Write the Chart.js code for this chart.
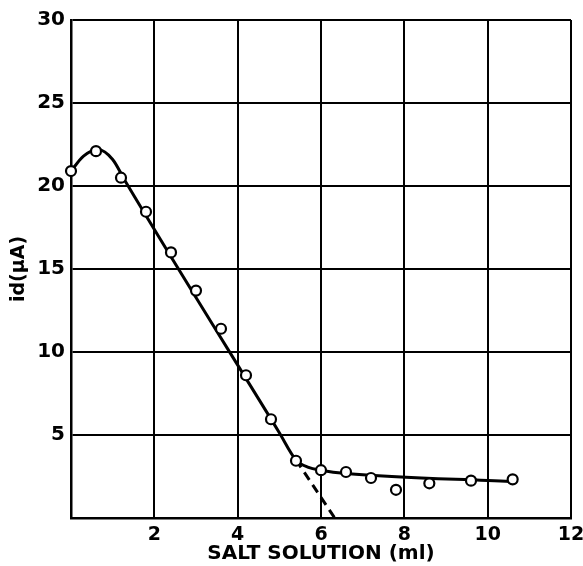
<!DOCTYPE html>
<html>
<head>
<meta charset="utf-8">
<script src="https://cdn.jsdelivr.net/npm/chart.js@4.4.1/dist/chart.umd.min.js"></script>
<style>
  html, body { margin: 0; padding: 0; background: #fff; }
</style>
</head>
<body>
<canvas id="chart" width="583" height="566"></canvas>
<script>
// measured points: ml of salt solution added vs diffusion current
const saltMl = [0, 0.6, 1.2, 1.8, 2.4, 3.0, 3.6, 4.2, 4.8, 5.4, 6.0, 6.6, 7.2, 7.8, 8.6, 9.6, 10.6];
const idMicroA = [20.9, 22.1, 20.5, 18.45, 16.0, 13.7, 11.4, 8.6, 5.95, 3.45, 2.88, 2.77, 2.41, 1.7, 2.09, 2.25, 2.33];

// hand-drawn fit curve through the points
const fitMl = [0, 0.3, 0.65, 1.0, 1.3, 5.0, 5.4, 5.7, 6.0, 6.6, 10.55];
const fitId = [20.9, 21.8, 22.2, 21.6, 20.3, 5.14, 3.5, 3.05, 2.88, 2.68, 2.2];

// dashed extrapolation of the falling branch
const extMl = [5.4, 6.33];
const extId = [3.5, 0];

const xTicks = [2, 4, 6, 8, 10, 12];
const yTicks = [5, 10, 15, 20, 25, 30];

const pairs = (xs, ys) => xs.map((x, i) => ({x: x, y: ys[i]}));
const font = 'DejaVu Sans';

let chart = new Chart(document.getElementById('chart'), {
  type: 'scatter',
  data: {
    datasets: [
      {data: pairs(saltMl, idMicroA), pointRadius: 5, pointBorderWidth: 2.2,
       pointBackgroundColor: '#fff', pointBorderColor: '#000', showLine: false, clip: false, order: 0},
      {data: pairs(fitMl, fitId), showLine: true, pointRadius: 0, borderColor: '#000',
       borderWidth: 3, cubicInterpolationMode: 'monotone', order: 1},
      {data: pairs(extMl, extId), showLine: true, pointRadius: 0, borderColor: '#000',
       borderWidth: 3, borderDash: [9, 6], order: 2}
    ]
  },
  options: {
    responsive: false,
    animation: false,
    layout: {padding: {left: 0, right: 12, top: 20, bottom: 0}},
    plugins: {legend: {display: false}, tooltip: {enabled: false}},
    scales: {
      x: {
        type: 'linear', min: 0, max: 12,
        afterFit: s => { s.height = 48; s.paddingLeft = 0; s.paddingRight = 0; },
        afterBuildTicks: s => { s.ticks = [0].concat(xTicks).map(v => ({value: v})); },
        grid: {color: '#000', lineWidth: 2, drawTicks: false},
        border: {color: '#000', width: 2.5},
        ticks: {color: '#000', padding: 6, font: {family: font, size: 19, weight: 'bold'},
                callback: v => (v === 0 ? '' : v)},
        title: {display: true, text: 'SALT SOLUTION (ml)', color: '#000',
                font: {family: font, size: 20, weight: 'bold'}, padding: {top: 0, bottom: 0}}
      },
      y: {
        type: 'linear', min: 0, max: 30,
        afterFit: s => { s.width = 71; s.paddingTop = 0; s.paddingBottom = 0; },
        afterBuildTicks: s => { s.ticks = [0].concat(yTicks).map(v => ({value: v})); },
        grid: {color: '#000', lineWidth: 2, drawTicks: false},
        border: {color: '#000', width: 2.5},
        ticks: {color: '#000', padding: 6, font: {family: font, size: 20, weight: 'bold'},
                callback: v => (v === 0 ? '' : v)},
        title: {display: true, text: 'id(μA)', color: '#000',
                font: {family: font, size: 19, weight: 'bold'}, padding: {top: 8, bottom: 0}}
      }
    }
  }
});
</script>
</body>
</html>
